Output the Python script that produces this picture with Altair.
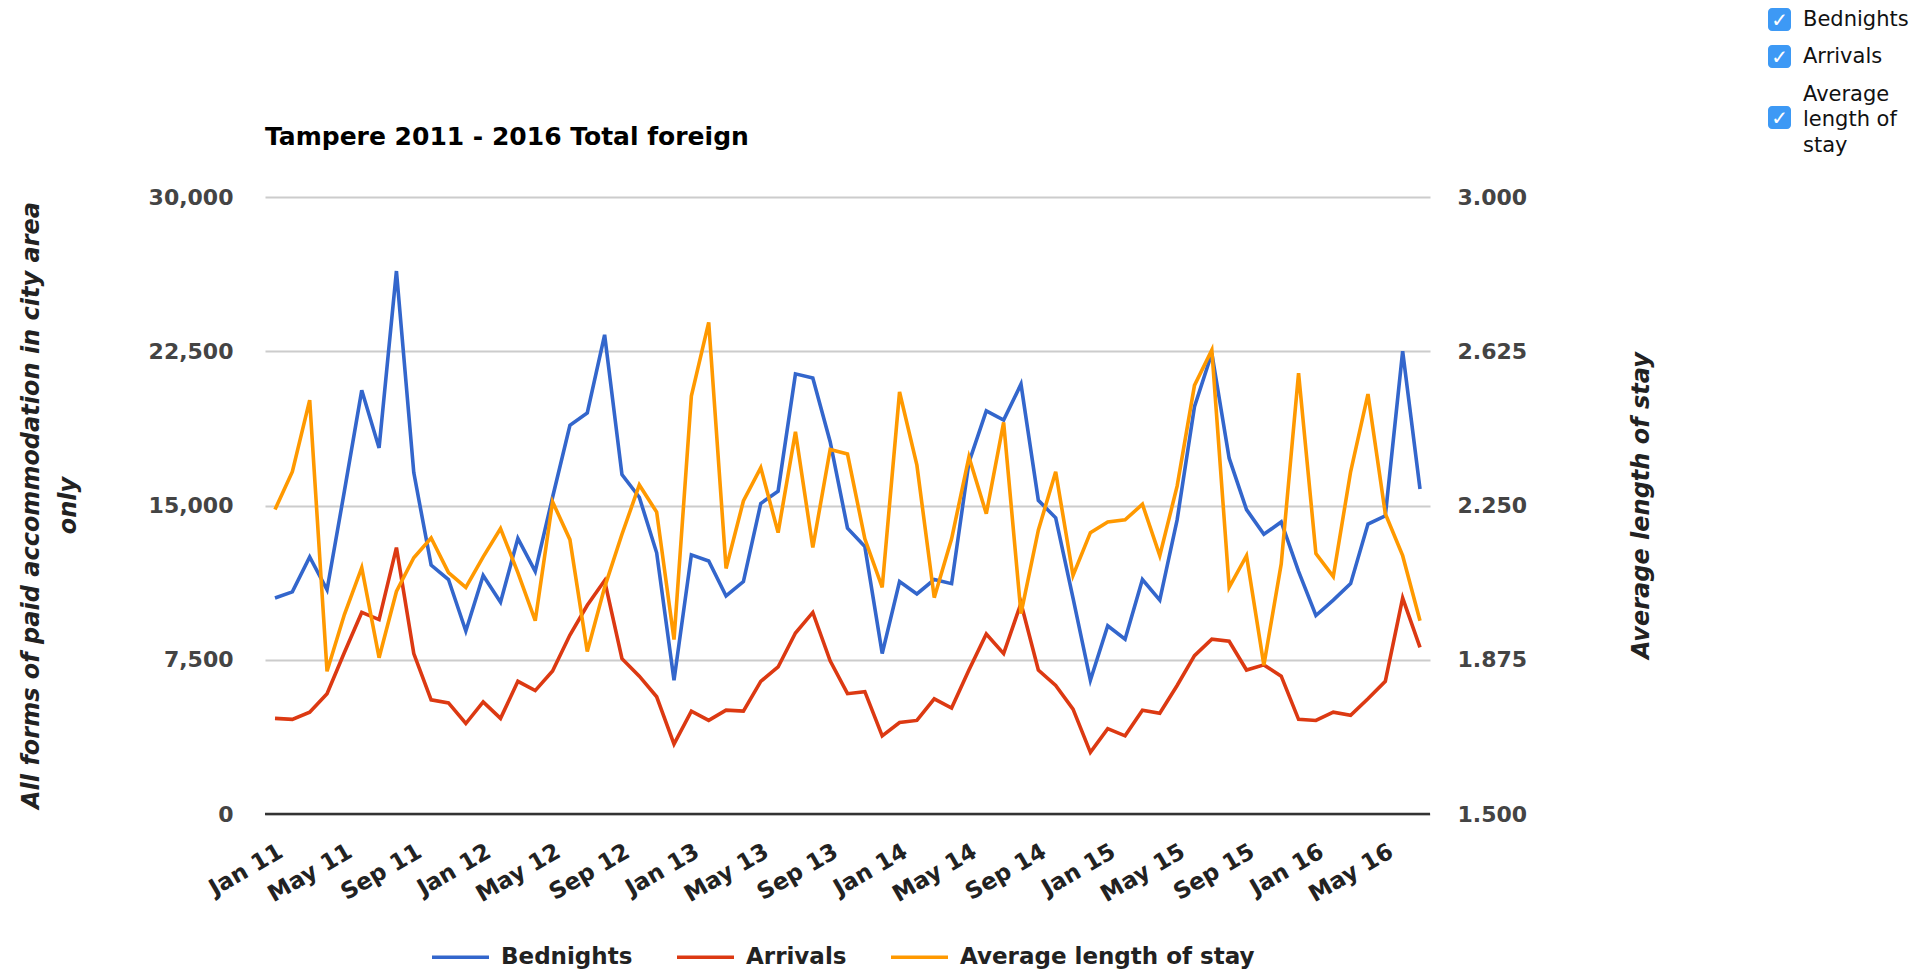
import altair as alt
import pandas as pd

# ---------------- data ----------------
month_names = ["Jan", "Feb", "Mar", "Apr", "May", "Jun",
               "Jul", "Aug", "Sep", "Oct", "Nov", "Dec"]
years = ["11", "12", "13", "14", "15", "16"]
month_labels = [f"{m} {y}" for y in years for m in month_names][:67]  # Jan 11 .. Jul 16

bednights = [10500, 10800, 12500, 10900, 15700, 20600, 17800, 26400, 16600, 12100,
             11400, 8900, 11600, 10300, 13400, 11800, 15400, 18900, 19500, 23300,
             16500, 15400, 12700, 6500, 12600, 12300, 10600, 11300, 15100, 15700,
             21400, 21200, 18100, 13900, 13000, 7800, 11300, 10700, 11400, 11200,
             17100, 19600, 19150, 20900, 15250, 14400, 10500, 6500, 9150, 8500,
             11400, 10400, 14300, 19800, 22400, 17300, 14800, 13600, 14200, 11800,
             9650, 10400, 11200, 14100, 14500, 22500, 15800]

arrivals = [4650, 4600, 4950, 5850, 7850, 9800, 9450, 12950, 7800, 5550,
            5400, 4400, 5450, 4650, 6450, 6000, 6950, 8700, 10150, 11350,
            7550, 6700, 5700, 3400, 5000, 4550, 5050, 5000, 6450, 7150,
            8800, 9800, 7450, 5850, 5950, 3800, 4450, 4550, 5600, 5150,
            7000, 8750, 7800, 10250, 7000, 6250, 5100, 3000, 4150, 3800,
            5050, 4900, 6250, 7700, 8500, 8400, 7000, 7250, 6700, 4600,
            4550, 4950, 4800, 5600, 6450, 10500, 8100]

avg_stay = [2.240, 2.332, 2.506, 1.847, 1.985, 2.099, 1.880, 2.041, 2.123, 2.171,
            2.087, 2.051, 2.125, 2.194, 2.087, 1.970, 2.259, 2.167, 1.895, 2.051,
            2.180, 2.300, 2.234, 1.924, 2.516, 2.695, 2.097, 2.261, 2.342, 2.184,
            2.429, 2.148, 2.386, 2.375, 2.169, 2.051, 2.526, 2.348, 2.026, 2.169,
            2.368, 2.230, 2.452, 1.987, 2.190, 2.332, 2.080, 2.184, 2.210, 2.215,
            2.253, 2.128, 2.297, 2.542, 2.628, 2.051, 2.128, 1.862, 2.108, 2.572,
            2.133, 2.077, 2.332, 2.521, 2.230, 2.128, 1.970]

series_names = ["Bednights", "Arrivals", "Average length of stay"]
series_colors = ["#3366cc", "#dc3912", "#ff9900"]

left_ticks = [0, 7500, 15000, 22500, 30000]
right_ticks = [1.5, 1.875, 2.25, 2.625, 3.0]
x_tick_idx = list(range(0, 67, 4))
x_tick_labels = [month_labels[i] for i in x_tick_idx]

title_text = "Tampere 2011 - 2016 Total foreign"
left_title = ["All forms of paid accommodation in city area", "only"]
right_title = "Average length of stay"
checkbox_labels = ["Bednights", "Arrivals", ["Average", "length of", "stay"]]

n = len(month_labels)
left_df = pd.DataFrame({
    "idx": list(range(n)) * 2,
    "month": month_labels * 2,
    "series": [series_names[0]] * n + [series_names[1]] * n,
    "value": bednights + arrivals,
})
right_df = pd.DataFrame({
    "idx": list(range(n)),
    "month": month_labels,
    "series": [series_names[2]] * n,
    "value": avg_stay,
})
one = pd.DataFrame({"k": [0]})

# ---------------- style ----------------
W, H = 1165, 617
FONT = "DejaVu Sans"
LINE_W = 3.6

js_labels = "[" + ",".join(f"'{t}'" for t in x_tick_labels) + "]"
x_axis = alt.Axis(
    values=x_tick_idx, labelExpr=f"{js_labels}[round(datum.value / 4)]",
    labelAngle=330, labelAlign="right", labelBaseline="top", labelPadding=26,
    labelFont=FONT, labelFontWeight="bold", labelFontSize=23, labelColor="#222222",
    labelOverlap=False, ticks=False, domain=False, grid=False, title=None,
)
x_enc = alt.X("idx:Q", scale=alt.Scale(domain=[-0.576, n - 1 + 0.576], nice=False, zero=False),
              axis=x_axis)

legend = alt.Legend(
    orient="none", legendX=165, legendY=729.5, direction="horizontal", columns=3,
    title=None, symbolType="stroke", symbolSize=3249, symbolStrokeWidth=3.6,
    labelFont=FONT, labelFontWeight="bold", labelFontSize=23, labelColor="#222222",
    labelOffset=10, columnPadding=36, padding=0, labelLimit=500,
)
color_enc = alt.Color("series:N", scale=alt.Scale(domain=series_names, range=series_colors),
                      legend=legend)

left_lines = alt.Chart(left_df).mark_line(strokeWidth=LINE_W).encode(
    x=x_enc,
    y=alt.Y("value:Q", scale=alt.Scale(domain=[0, 30000], nice=False),
            axis=alt.Axis(
                orient="left", values=left_ticks, format=",d",
                labelFont=FONT, labelFontWeight="bold", labelFontSize=22, labelColor="#444444",
                labelPadding=32, ticks=False, domain=False,
                grid=True, gridColor="#cccccc", gridWidth=2,
                title=left_title, titleFont=FONT, titleFontWeight="bold", titleFontStyle="italic",
                titleFontSize=24, titleColor="#222222", titleAngle=270, titleX=-234, titleY=308,
                titleAlign="center", titleBaseline="middle", titleLineHeight=37,
            )),
    color=color_enc,
    detail="series:N",
)

right_line = alt.Chart(right_df).mark_line(strokeWidth=LINE_W).encode(
    x=x_enc,
    y=alt.Y("value:Q", scale=alt.Scale(domain=[1.5, 3.0], nice=False, zero=False),
            axis=alt.Axis(
                orient="right", values=right_ticks, format=".3f",
                labelFont=FONT, labelFontWeight="bold", labelFontSize=22, labelColor="#444444",
                labelPadding=27, ticks=False, domain=False, grid=False,
                title=right_title, titleFont=FONT, titleFontWeight="bold", titleFontStyle="italic",
                titleFontSize=24, titleColor="#222222", titleAngle=270, titleX=211, titleY=308,
                titleAlign="center", titleBaseline="middle",
            )),
    color=color_enc,
)

baseline = alt.Chart(one).mark_rule(color="#333333", strokeWidth=2.5).encode(
    x=alt.value(0), x2=alt.value(W), y=alt.value(H))

title_mark = alt.Chart(one).mark_text(
    text=title_text, align="left", baseline="alphabetic", font=FONT,
    fontWeight="bold", fontSize=25, color="#000000",
).encode(x=alt.value(0), y=alt.value(-52))

# checkbox panel (top right)
box_tops = [-189, -152, -91]
label_y = [-177.5, -140.5, -102.5]
deco = []
for lab, top, ly in zip(checkbox_labels, box_tops, label_y):
    cy = top + 11.5
    deco.append(alt.Chart(one).mark_rect(cornerRadius=4, color="#3d99f5").encode(
        x=alt.value(1503), x2=alt.value(1526), y=alt.value(top), y2=alt.value(top + 23)))
    deco.append(alt.Chart(one).mark_text(
        text="✓", font=FONT, fontWeight="bold", fontSize=20, color="white",
        align="center", baseline="middle").encode(x=alt.value(1514.5), y=alt.value(cy + 1)))
    deco.append(alt.Chart(one).mark_text(
        text=lab, font=FONT, fontSize=21, color="#111111", align="left",
        baseline="middle", lineHeight=25.5).encode(x=alt.value(1538), y=alt.value(ly)))

chart = alt.layer(left_lines, right_line, baseline, title_mark, *deco).resolve_scale(
    y="independent"
).properties(
    width=W, height=H,
    autosize=alt.AutoSizeParams(type="none"),
    padding={"left": 257, "top": 189, "right": 490, "bottom": 156},
).configure_view(stroke=None)

chart.save("out.html", embed_options={"renderer": "svg", "actions": False})
